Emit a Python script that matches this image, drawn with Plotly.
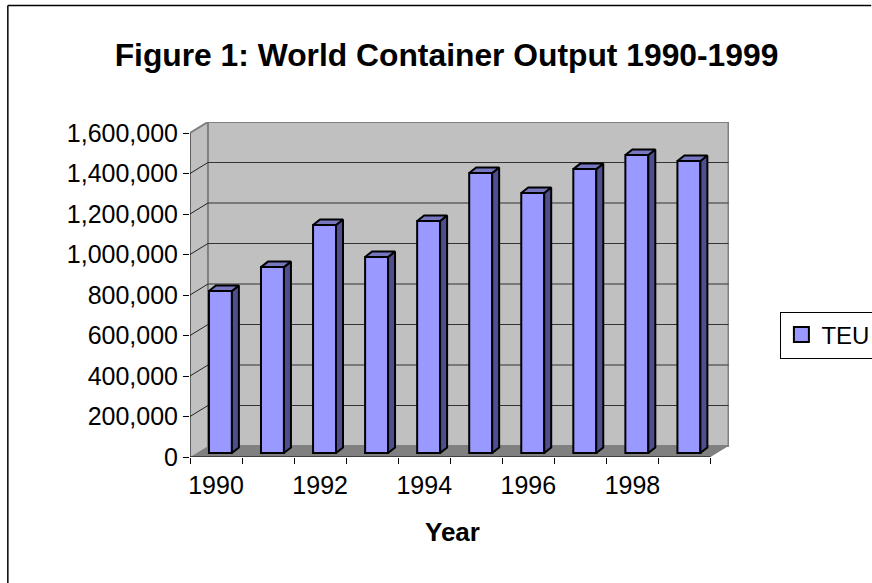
"""World container output chart, faked 3D column look on a flat Plotly axis."""

import plotly.graph_objects as go

YEARS = list(range(1990, 2000))
TEU = [800000, 918000, 1126000, 968000, 1146000, 1383000, 1284000, 1402000, 1472000, 1442000]
YEAR_LABELS = ["1990", "", "1992", "", "1994", "", "1996", "", "1998", ""]
Y_TICKS = [0, 200000, 400000, 600000, 800000, 1000000, 1200000, 1400000, 1600000]

WIDTH, HEIGHT = 872, 583
X0_PX, X1_PX = 189.5, 729.5  # plot area incl. depth
Y0_PX, Y1_PX = 457, 122
Y_MAX = 1600000
PX_PER_CAT = 52.15
PX_PER_VAL = 324 / Y_MAX

# depth of the fake 3D box and of each column, in data units
BOX_DX, BOX_DY = 18 / PX_PER_CAT, 11 / PX_PER_VAL
BAR_DX, BAR_DY = 7 / PX_PER_CAT, 5.5 / PX_PER_VAL
BAR_SHIFT = 4.4 / PX_PER_CAT
BAR_BASE = 4 / PX_PER_VAL
BAR_W = 23 / PX_PER_CAT

x_lo = -0.5
x_hi = len(YEARS) - 0.5
centers = [i + BAR_SHIFT for i in range(len(YEARS))]
lefts = [c - BAR_W / 2 for c in centers]
rights = [c + BAR_W / 2 for c in centers]

WALL = "#c0c0c0"
FLOOR = "#808080"
FRONT = "#9999ff"
SIDE = "#4f4f8f"
TOP = "#7777bf"
FONT = "Liberation Sans"


def poly(xs, ys):
    return "M " + " L ".join(f"{x},{y}" for x, y in zip(xs, ys)) + " Z"


def paper_x(px):
    return (px - X0_PX) / (X1_PX - X0_PX)


def paper_y(px):
    return (Y0_PX - px) / (Y0_PX - Y1_PX)


shapes = [
    # left wall
    dict(type="path", layer="below", line=dict(width=0), fillcolor=WALL,
         path=poly([x_lo, x_lo + BOX_DX, x_lo + BOX_DX, x_lo],
                   [0, BOX_DY, Y_MAX + BOX_DY, Y_MAX])),
    # back wall
    dict(type="rect", layer="below", line=dict(color=FLOOR, width=2), fillcolor=WALL,
         x0=x_lo + BOX_DX, x1=x_hi + BOX_DX, y0=BOX_DY, y1=Y_MAX + BOX_DY),
    # floor
    dict(type="path", layer="below", line=dict(width=0), fillcolor=FLOOR,
         path=poly([x_lo, x_lo + BOX_DX, x_hi + BOX_DX, x_hi], [0, BOX_DY, BOX_DY, 0])),
    # top edge of the left wall
    dict(type="line", layer="below", line=dict(color=FLOOR, width=2),
         x0=x_lo, x1=x_lo + BOX_DX, y0=Y_MAX, y1=Y_MAX + BOX_DY),
]
for v in Y_TICKS[1:-1]:
    shapes.append(dict(type="line", layer="below", line=dict(color="#333333", width=1),
                       x0=x_lo + BOX_DX, x1=x_hi + BOX_DX, y0=v + BOX_DY, y1=v + BOX_DY))
    shapes.append(dict(type="line", layer="below", line=dict(color="#222222", width=1),
                       x0=x_lo, x1=x_lo + BOX_DX, y0=v, y1=v + BOX_DY))
# front axis lines, they stop short of the depth offset
shapes.append(dict(type="line", line=dict(color="black", width=1), x0=x_lo, x1=x_lo, y0=0, y1=Y_MAX))
shapes.append(dict(type="line", line=dict(color="black", width=1), x0=x_lo, x1=x_hi, y0=0, y1=0))
# chart frame, only top and left show in the picture
shapes.append(dict(type="line", xref="paper", yref="paper", line=dict(color="black", width=1.5),
                   x0=paper_x(7), x1=paper_x(WIDTH), y0=paper_y(5.5), y1=paper_y(5.5)))
shapes.append(dict(type="line", xref="paper", yref="paper", line=dict(color="black", width=1.5),
                   x0=paper_x(7), x1=paper_x(7), y0=paper_y(5.5), y1=paper_y(HEIGHT)))

side_x, side_y, top_x, top_y = [], [], [], []
for l, r, v in zip(lefts, rights, TEU):
    t = v + BAR_BASE
    side_x += [r, r + BAR_DX, r + BAR_DX, r, r, None]
    side_y += [BAR_BASE, BAR_BASE + BAR_DY, t + BAR_DY, t, BAR_BASE, None]
    top_x += [l, l + BAR_DX, r + BAR_DX, r, l, None]
    top_y += [t, t + BAR_DY, t + BAR_DY, t, t, None]

fig = go.Figure()
fig.add_trace(go.Bar(x=centers, y=TEU, base=BAR_BASE, width=BAR_W, name="TEU", showlegend=False,
                     marker=dict(color=FRONT, line=dict(color="black", width=2))))
for xs, ys, col in [(side_x, side_y, SIDE), (top_x, top_y, TOP)]:
    fig.add_trace(go.Scatter(x=xs, y=ys, mode="lines", fill="toself", fillcolor=col,
                             line=dict(color="black", width=2), showlegend=False,
                             hoverinfo="skip"))
# legend entry only, bar swatches in the legend are too small
fig.add_trace(go.Scatter(x=[None], y=[None], mode="markers", name="TEU",
                         marker=dict(symbol="square", size=15, color=FRONT,
                                     line=dict(color="black", width=2))))

fig.update_layout(
    width=WIDTH,
    height=HEIGHT,
    margin=dict(l=X0_PX, r=WIDTH - X1_PX, t=Y1_PX, b=HEIGHT - Y0_PX, autoexpand=False),
    paper_bgcolor="white",
    plot_bgcolor="white",
    font=dict(family=FONT, size=25, color="black"),
    title=dict(text="<b>Figure 1: World Container Output 1990-1999</b>",
               x=446.5 / WIDTH, xanchor="center",
               y=1 - 55 / HEIGHT, yanchor="middle", font=dict(size=31.8)),
    shapes=shapes,
    annotations=[dict(text="<b>Year</b>", xref="paper", yref="paper", showarrow=False,
                      x=paper_x(452), y=paper_y(532), yanchor="middle", font=dict(size=26))],
    legend=dict(x=paper_x(781), xanchor="left", y=paper_y(335), yanchor="middle",
                bordercolor="black", borderwidth=1, font=dict(size=24), itemwidth=30),
    showlegend=True,
)
fig.update_xaxes(
    range=[x_lo, x_lo + (X1_PX - X0_PX) / PX_PER_CAT],
    tickmode="array",
    tickvals=list(range(len(YEARS))),
    ticktext=YEAR_LABELS,
    ticks="outside",
    ticklen=6,
    tickcolor="rgba(0,0,0,0)",
    showgrid=False,
    zeroline=False,
    showline=False,
    minor=dict(tickmode="array", tickvals=[i - 0.5 for i in range(len(YEARS) + 1)],
               ticks="outside", ticklen=6, tickcolor="black", tickwidth=1, showgrid=False),
)
fig.update_yaxes(
    range=[0, (Y0_PX - Y1_PX) / PX_PER_VAL],
    tickvals=Y_TICKS,
    tickformat=",d",
    ticks="outside",
    ticklen=6,
    tickcolor="black",
    showgrid=False,
    zeroline=False,
    showline=False,
)

# page body has a default margin that would push the figure off the window
fig.write_html("out.html", config=dict(displayModeBar=False),
               post_script="document.body.style.margin = '0';")
